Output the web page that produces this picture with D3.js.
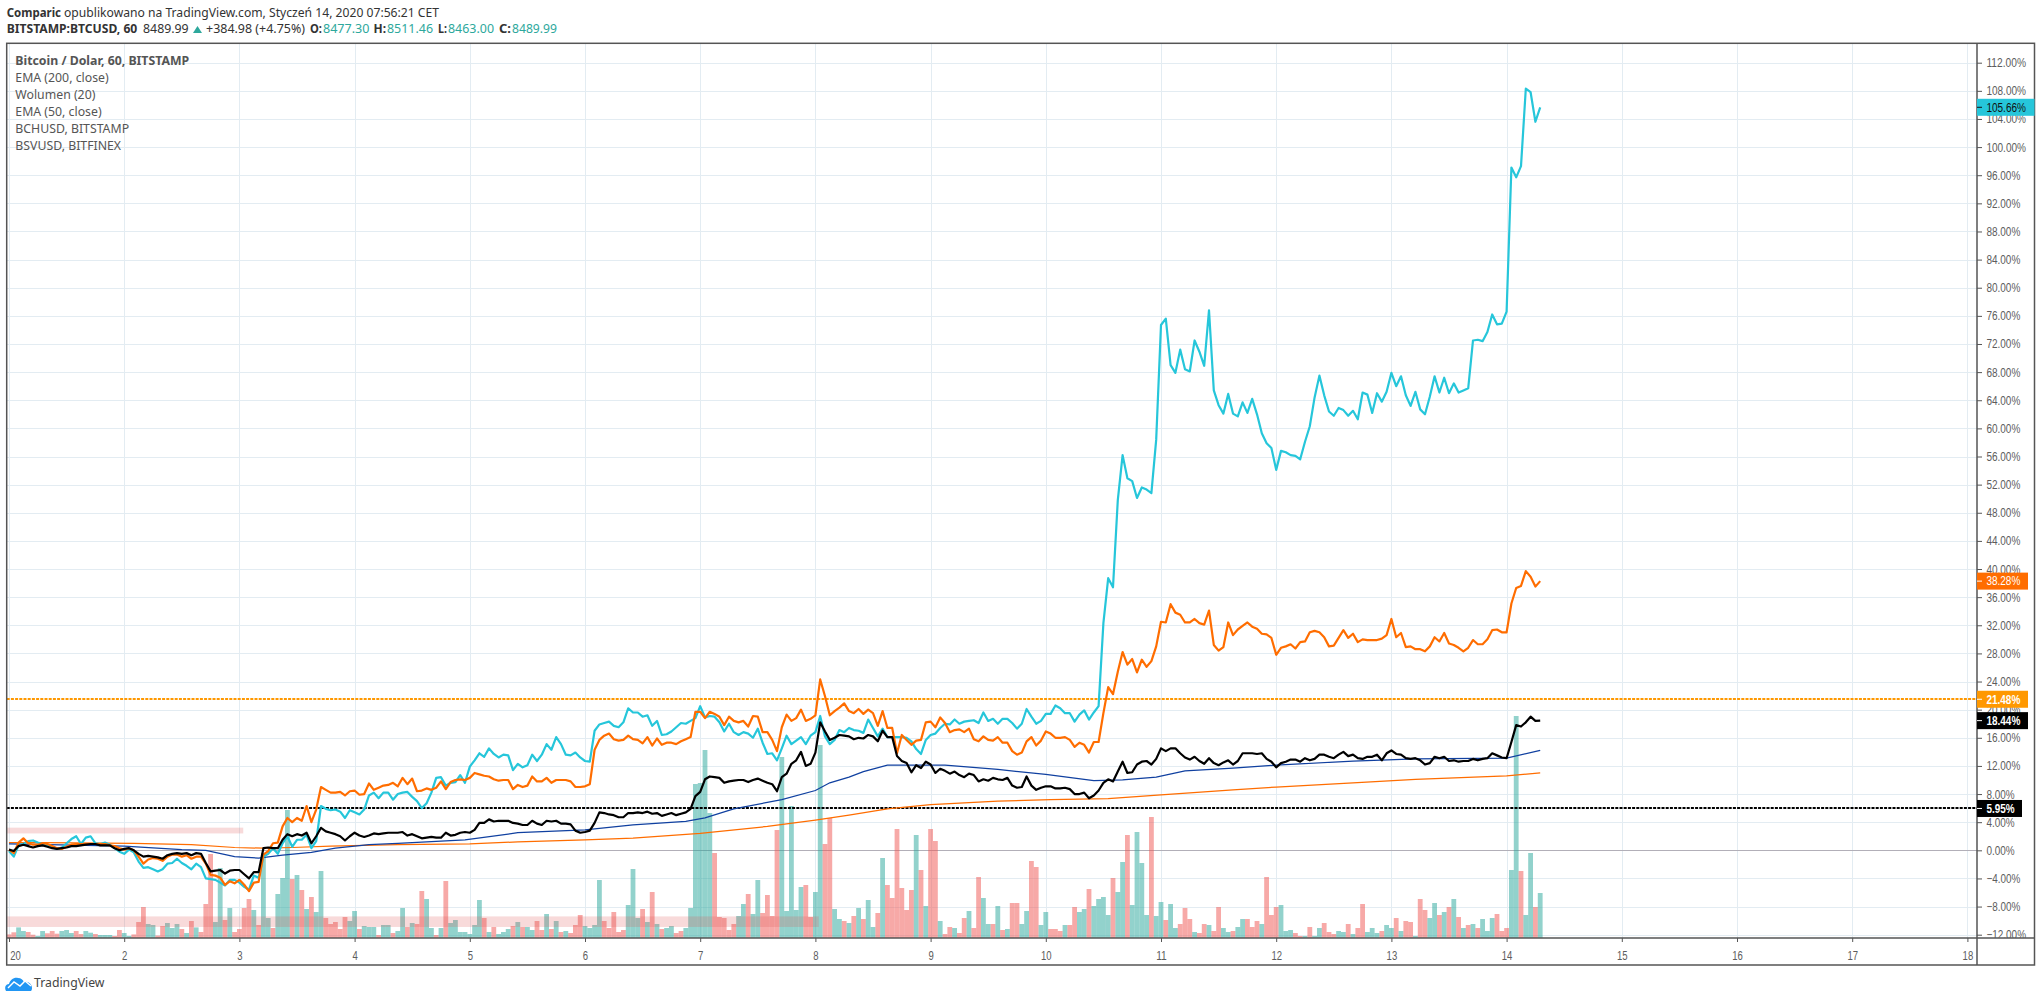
<!DOCTYPE html>
<html><head><meta charset="utf-8">
<script src="https://cdnjs.cloudflare.com/ajax/libs/d3/7.8.5/d3.min.js"></script>
<style>html,body{margin:0;padding:0;background:#fff;overflow:hidden}svg{display:block}</style>
</head><body><svg id="c" width="2041" height="1002"></svg>
<script>
// hourly percent change series, Jan 1 00:00 onward
const bsvusd = [
-0.1,-0.9,0.7,0.9,1.3,1.4,1.1,0.9,0.7,0.4,0.2,0.4,1.0,1.6,2.0,0.9,1.8,2.0,1.0,0.9,1.1,0.8,0.3,-0.2,
-0.5,0.1,-0.3,-1.6,-2.5,-2.4,-2.7,-3.0,-2.7,-1.9,-1.8,-1.2,-1.8,-2.2,-2.7,-1.9,-2.4,-4.0,-4.1,-4.2,-4.6,-5.0,-4.2,-4.2,
-4.6,-5.2,-5.6,-3.6,-3.9,-0.9,-0.5,0.3,-0.5,1.0,2.0,0.5,1.5,1.5,2.2,0.3,1.3,6.3,5.9,5.7,5.8,5.5,4.6,5.7,
5.4,5.1,5.8,7.8,8.2,7.4,8.2,8.2,7.2,8.0,8.2,8.3,7.6,7.0,6.0,6.7,8.2,10.3,10.4,9.2,9.6,9.7,10.7,9.6,
11.9,12.8,13.8,13.3,14.5,13.7,13.2,13.6,13.5,11.4,12.3,11.8,12.1,13.6,12.7,13.6,15.1,14.3,16.1,15.1,13.6,13.5,13.9,13.2,
12.7,12.6,17.0,17.9,18.1,18.3,17.7,17.5,18.2,20.2,19.6,19.6,19.0,19.2,17.7,18.4,16.4,16.5,16.9,17.5,18.1,18.0,18.4,18.8,
20.5,18.9,19.1,19.0,18.2,16.9,18.0,16.8,16.4,16.8,16.6,16.0,17.3,15.3,13.7,13.8,12.8,14.5,16.3,15.1,15.6,16.1,15.1,16.3,
16.8,19.1,16.2,15.1,15.7,17.1,16.8,17.4,17.1,17.0,16.7,18.6,17.4,16.2,17.3,16.1,16.1,16.1,16.1,16.0,15.5,14.4,13.7,15.7,
16.4,16.6,17.4,18.0,17.9,18.6,18.0,18.3,18.4,18.5,18.1,19.6,18.4,18.7,18.0,18.7,18.7,18.1,17.3,18.0,20.1,19.0,18.0,18.4,
19.4,19.4,20.6,20.2,19.5,19.5,18.3,19.3,19.9,18.6,19.6,20.5,32.3,38.7,37.4,49.8,56.2,52.9,52.5,50.1,51.6,51.3,50.8,58.4,
74.7,75.6,69.0,67.9,71.2,68.4,68.1,72.5,70.9,68.9,76.8,65.4,63.3,62.1,64.9,62.1,61.7,63.7,62.2,64.2,62.0,59.3,57.9,57.2,
54.1,56.8,56.6,56.2,56.1,55.6,58.1,60.3,64.4,67.5,64.7,62.4,61.8,62.9,62.6,61.8,62.5,61.3,65.1,64.8,62.2,65.0,63.8,65.2,
67.9,66.0,67.4,64.7,63.2,65.2,62.7,62.0,64.5,67.4,65.1,67.2,65.0,66.4,65.1,65.4,65.7,72.5,72.6,72.4,73.7,76.2,74.8,74.9,
76.6,97.1,95.7,97.3,108.3,107.8,103.6,105.66];

const bchusd = [
0.1,-0.4,1.1,1.7,1.0,0.8,0.8,1.0,0.9,0.6,0.3,0.2,0.5,0.8,0.9,0.9,0.9,0.9,0.9,0.9,0.9,0.7,0.6,0.3,
0.1,0.3,0.0,-0.9,-1.9,-1.3,-1.1,-1.2,-1.5,-0.9,-0.6,-0.6,-0.9,-0.7,-1.2,-0.9,-0.9,-1.9,-3.5,-3.6,-3.9,-4.9,-4.4,-4.7,
-4.2,-4.9,-5.8,-4.6,-4.5,-0.6,-0.1,1.0,1.1,3.4,4.6,4.0,4.6,4.2,6.3,4.0,5.8,9.0,8.6,8.2,8.2,8.3,7.8,8.4,
8.5,7.9,8.0,9.5,8.6,8.9,9.2,9.3,9.6,9.1,10.3,9.4,10.2,8.4,8.5,8.8,8.6,8.9,9.8,8.7,9.7,10.0,10.1,10.0,
10.3,11.0,10.8,10.6,10.5,10.1,9.9,10.0,10.0,8.7,9.3,9.0,9.2,10.5,9.8,9.8,10.3,9.6,10.0,10.0,10.0,9.8,9.0,9.0,
9.1,9.4,14.3,15.7,16.3,16.6,15.8,15.6,15.7,16.3,15.8,15.7,15.2,16.1,14.9,15.9,15.0,15.3,15.3,15.1,15.5,15.8,16.1,19.7,
19.7,18.8,19.7,19.4,19.0,17.8,19.0,18.4,18.2,18.4,17.6,19.1,19.0,16.8,16.8,15.7,14.1,17.5,19.3,18.4,18.8,20.0,18.4,18.7,
19.2,24.3,21.9,19.2,19.8,20.3,20.9,19.8,19.5,20.1,19.4,20.0,19.5,17.7,19.8,17.4,17.4,13.8,16.4,15.7,15.0,15.6,15.7,18.2,
18.3,17.5,18.9,18.1,16.8,17.1,17.2,16.8,17.3,15.8,15.5,16.2,15.7,15.6,16.1,15.3,15.3,14.1,13.6,13.9,15.5,16.1,14.9,15.6,
16.9,16.6,16.0,16.0,16.1,15.7,14.7,15.3,15.0,13.9,15.4,15.4,19.5,23.2,22.2,25.4,28.2,26.4,27.2,25.3,27.1,26.1,26.9,29.0,
32.5,32.4,35.0,33.8,33.5,32.4,32.4,32.9,32.3,32.1,34.1,29.2,28.4,28.9,32.4,30.6,31.4,31.9,32.4,31.8,31.5,30.8,30.7,30.2,
27.8,28.8,29.0,29.3,28.7,29.6,29.7,31.0,31.2,31.0,30.3,29.0,29.1,30.2,31.3,30.2,30.8,29.6,30.0,29.9,29.9,29.9,30.1,30.6,
32.9,30.3,30.9,28.9,29.0,28.6,28.6,28.3,29.0,30.3,29.7,30.9,29.4,29.2,28.8,28.3,28.8,29.9,29.3,29.3,30.0,31.3,31.4,31.0,
31.0,35.1,37.3,37.6,39.7,38.9,37.5,38.28];

const btcusd = [
0.1,-0.1,0.6,0.8,0.6,0.4,0.6,0.7,0.5,0.3,0.2,0.3,0.4,0.6,0.6,0.7,0.8,0.9,0.9,0.7,0.7,0.7,0.3,0.0,
0.2,0.3,0.0,-0.5,-0.9,-0.8,-0.9,-1.0,-1.2,-0.7,-0.5,-0.4,-0.5,-0.4,-0.7,-0.4,-0.5,-1.8,-3.0,-2.9,-2.8,-3.3,-2.9,-2.8,
-2.8,-3.4,-4.0,-3.1,-3.1,0.3,0.4,0.3,0.3,1.5,2.3,2.0,2.3,2.1,2.5,1.0,2.0,3.2,2.7,2.5,2.3,2.0,1.4,2.0,
2.5,2.1,1.9,2.1,2.4,2.3,2.4,2.5,2.5,2.5,2.6,2.1,2.3,2.0,1.7,1.8,1.9,1.8,1.8,2.5,2.1,2.2,2.5,2.6,
2.5,2.9,3.9,3.9,4.4,4.1,4.2,4.2,4.2,3.9,3.8,3.6,3.6,4.2,3.8,3.6,4.2,4.1,4.2,3.8,3.8,3.7,2.8,2.5,
2.6,2.8,3.9,5.4,5.3,5.1,5.0,4.7,4.7,5.3,5.3,5.4,5.3,5.5,5.2,5.3,4.9,5.1,5.3,5.0,5.2,5.4,5.9,7.7,
8.3,10.1,10.5,10.4,10.3,9.6,9.8,9.9,10.0,10.0,9.7,10.0,10.2,9.9,9.6,9.4,8.4,10.4,10.9,12.3,12.8,14.0,12.0,12.3,
13.9,18.2,16.9,15.7,16.0,16.4,16.3,16.2,15.8,16.0,15.9,16.4,16.2,15.5,17.0,16.1,16.1,13.4,12.7,12.4,11.1,12.1,11.7,12.6,
12.2,11.0,11.6,11.3,10.9,11.2,10.7,10.4,10.9,10.7,9.8,10.1,9.9,10.3,10.1,10.0,10.3,9.2,8.9,9.0,10.5,9.2,8.6,8.9,
9.1,9.1,8.8,8.8,8.9,8.7,8.0,8.0,8.2,7.4,7.8,8.5,9.6,10.1,9.8,11.2,12.6,11.0,11.1,12.2,12.6,12.7,12.2,13.0,
14.5,14.1,14.5,14.5,13.8,13.2,12.9,13.3,12.7,12.3,13.1,12.4,12.1,12.5,12.8,12.2,12.7,13.8,13.8,13.8,13.7,13.8,13.0,12.6,
11.8,12.4,12.6,12.9,12.9,12.6,13.1,12.8,13.0,13.6,13.6,13.3,13.1,13.6,14.0,13.4,13.6,13.1,13.0,13.3,13.3,13.6,12.8,13.8,
14.2,13.7,13.6,13.1,13.0,13.1,12.8,12.2,12.4,13.3,13.1,13.3,12.7,12.8,12.6,12.7,12.7,13.0,12.8,13.0,13.1,13.8,13.5,13.2,
13.1,15.4,17.8,17.6,18.2,19.0,18.4,18.44];

// hourly volume; sign gives bar direction (positive = close up, negative = close down)
const volume = [
-3.6,-5.7,10.6,7,-6,-3.3,2,7,-4.7,-7,-4.3,7,8,5,-7,-4,7,5.3,-4,3,3,3,-2,-8,
5,2,-3.6,-16,-31,14,13,-2.5,-12,15,10,14,-9,5,-17,10.6,-6,-34,-84,16,70,-18,30,-6,
-9,-30,-39,28,-13,85,20,-10,44,60,128,-59,63,-48,29,-41,26,67,-20,-14,-16,-9,-21,17,
27,-9,12,11,11,-3,13,13,-5,7,30,-11,15,-14,-47,39,10,-3,10,-57,15,18,6,6,
4,13,38,-20,6,-11,4,6,9,-12,16,-11,11,8,-17,-8,24,-9,17,-6,7,-5,-13,-23,
12,10,13,58,-17,-10,-26,-6,-8,33,69,20,-29,16,-46,14,-9,10,12,-5,-7,10,30,154,
155,188,125,-85,-21,-20,-8,-14,22,34,-44,24,58,-25,-43,-22,-108,181,27,132,28,51,-53,-21,
46,193,-94,-120,29,19,-17,15,-22,30,-19,38,11,-25,80,-53,-40,-109,-50,-28,-48,103,-68,32,
-109,-97,17,-4,-11,10,-5,-20,27,-10,-61,40,14,-14,32,-8,9,-35,-35,14,27,-77,-71,13,
26,-9,-9,-7,13,-13,-31,26,29,-49,32,39,41,23,-60,46,76,-103,33,106,75,23,-121,22,
36,-18,34,10,-14,-30,-19,6,-5,-14,13,-7,-31,10,6,-7,11,19,-19,-11,-17,14,-61,-23,
-31,33,7,8,-5,-2,2,-11,2,10,-15,-6,-4,7,6,-14,4,-10,-34,6,10,5,-7,13,
10,-20,7,-17,-16,2,-39,-28,20,35,-23,26,-31,39,-21,10,-13,14,-10,19,7,20,-24,-7,
-10,68,222,-67,23,85,-31,45];

const ema200Hours = [0,24,36,41,47,52,57,63,68,75,81,95,106,120,130,141,145,151,161,168,171,175,178,183,195,206,216,226,232,239,245,255,264,280,293,312,319];
const ema200 = [0.9,0.6,0.1,0.0,-0.9,-1.1,-0.7,-0.3,0.3,0.8,1.0,1.5,2.5,2.9,3.6,4.1,4.6,5.9,7.2,8.5,9.6,10.4,11.2,12.1,12.1,11.5,10.8,9.9,10.0,10.4,11.3,11.7,12.1,12.7,13.0,13.1,14.2];
const ema50Hours = [0,7,26,38,47,53,59,67,81,96,106,120,130,144,158,168,175,183,192,206,217,229,240,255,264,280,293,312,319];
const ema50 = [1.1,1.1,1.0,0.8,0.4,0.3,0.4,0.6,0.8,0.9,1.2,1.5,1.75,2.4,3.4,4.3,5.0,5.9,6.5,7.0,7.2,7.35,7.9,8.6,9.0,9.6,10.1,10.6,11.0];

const priceTicks = d3.range(-12, 113, 4);
const dayTicks = [1,2,3,4,5,6,7,8,9,10,11,12,13,14,15,16,17,18];
const levelOrange = 21.48, levelBlack = 5.95;
const legendRows = ["Bitcoin / Dolar, 60, BITSTAMP","EMA (200, close)","Wolumen (20)","EMA (50, close)","BCHUSD, BITSTAMP","BSVUSD, BITFINEX"];
const pinkZoneTop = {hours:[0,48.8], pct:[3.22,2.4]};
const pinkZoneBottom = {hours:[0,168.7], pct:[-9.4,-10.9]};

// geometry
const L=6.7,T=43.3,R=1977,B=938,FB=965,FR=2034.5;
const x=d3.scaleLinear([0,408],[9,1967.4]);
const y=d3.scaleLinear([-12,112],[934.7,62.7]);
const v=d3.scaleLinear([0,222],[B,716]);
const svg=d3.select('#c');
const FONT='"Noto Sans","Open Sans",sans-serif';
const AX='"Liberation Sans",sans-serif';
const labelW=s=>5.7*s.length-0.3;
const defs=svg.append('defs');
defs.append('clipPath').attr('id','plot').append('rect').attr('x',L).attr('y',T).attr('width',R-L).attr('height',B-T);
defs.append('clipPath').attr('id','pax').append('rect').attr('x',R).attr('y',T).attr('width',FR-R).attr('height',B-T);

const plot=svg.append('g').attr('clip-path','url(#plot)');
// grid
plot.append('g').selectAll('line').data(priceTicks).join('line')
 .attr('x1',L).attr('x2',R).attr('y1',d=>Math.round(y(d))+.5).attr('y2',d=>Math.round(y(d))+.5).attr('stroke','#E3ECF2').attr('stroke-width',1);
plot.append('g').selectAll('line').data(dayTicks).join('line')
 .attr('x1',d=>Math.round(x((d-1)*24))+.5).attr('x2',d=>Math.round(x((d-1)*24))+.5).attr('y1',T).attr('y2',B).attr('stroke','#E3ECF2').attr('stroke-width',1);
// zero line
plot.append('line').attr('x1',L).attr('x2',R).attr('y1',Math.round(y(0))+.5).attr('y2',Math.round(y(0))+.5).attr('stroke','#B2AFB8').attr('stroke-width',1);
// volume bars
plot.append('g').selectAll('rect').data(volume).join('rect')
 .attr('x',(d,i)=>x(i)-2.4).attr('width',x(1)-x(0)).attr('y',d=>v(Math.abs(d))).attr('height',d=>B-v(Math.abs(d)))
 .attr('fill',d=>d>=0?'rgba(38,166,154,.5)':'rgba(239,83,80,.5)');
// drawn zones
for(const z of [pinkZoneTop,pinkZoneBottom]){
 plot.append('rect').attr('x',L).attr('width',x(z.hours[1])-L).attr('y',y(z.pct[0])).attr('height',y(z.pct[1])-y(z.pct[0]))
  .attr('fill','rgba(220,80,80,.21)');
}
// dotted levels
for(const [lv,col] of [[levelOrange,'#FF9800'],[levelBlack,'#000']]){
 plot.append('line').attr('x1',L).attr('x2',R).attr('y1',Math.floor(y(lv))).attr('y2',Math.floor(y(lv))).attr('stroke',col).attr('stroke-width',2).attr('stroke-dasharray','3,1.2');
}
const line=d3.line().x((d,i)=>x(i)).y(d=>y(d));
const lineAt=h=>d3.line().x((d,i)=>x(h[i])).y(d=>y(d));
plot.append('path').attr('d',lineAt(ema50Hours)(ema50)).attr('fill','none').attr('stroke','#FF6D00').attr('stroke-width',1.25);
plot.append('path').attr('d',lineAt(ema200Hours)(ema200)).attr('fill','none').attr('stroke','#1040A0').attr('stroke-width',1.25);
for(const [s,c] of [[bsvusd,'#26C6DA'],[bchusd,'#FF6D00'],[btcusd,'#000']]){
 plot.append('path').attr('d',line(s)).attr('fill','none').attr('stroke',c).attr('stroke-width',2.2).attr('stroke-linejoin','round');
}
// legend
svg.append('g').selectAll('text').data(legendRows).join('text')
 .attr('x',15.3).attr('y',(d,i)=>64.7+17*i).attr('font-family',FONT).attr('font-size',12.3).attr('fill','#555')
 .attr('font-weight',(d,i)=>i?400:700).text(d=>d);
// frame
svg.append('rect').attr('x',L).attr('y',T).attr('width',FR-L).attr('height',FB-T).attr('fill','none').attr('stroke','#555').attr('stroke-width',1.5);
svg.append('line').attr('x1',R).attr('x2',R).attr('y1',T).attr('y2',FB).attr('stroke','#555').attr('stroke-width',1.5);
svg.append('line').attr('x1',L).attr('x2',FR).attr('y1',B).attr('y2',B).attr('stroke','#555').attr('stroke-width',1.5);
// price axis
const pax=svg.append('g').attr('clip-path','url(#pax)').append('g').attr('transform',`translate(${R},0)`)
 .call(d3.axisRight(y).tickValues(priceTicks).tickSize(5).tickPadding(4.4).tickFormat(d=>(d<0?'\u2212':'')+Math.abs(d).toFixed(2)+'%'));
pax.select('.domain').remove();
pax.selectAll('line').attr('stroke','#555');
pax.selectAll('text').attr('font-family',AX).attr('font-size',12.5).attr('fill','#5d5d5d')
 .attr('lengthAdjust','spacingAndGlyphs').attr('textLength',function(){return labelW(this.textContent);});
// time axis
const tax=svg.append('g').attr('transform',`translate(0,${B})`)
 .call(d3.axisBottom(x).tickValues(dayTicks.map(d=>(d-1)*24)).tickSize(4).tickPadding(9).tickFormat(h=>h===0?'20':String(h/24+1)));
tax.select('.domain').remove();
tax.selectAll('line').attr('stroke','#555');
tax.selectAll('text').attr('font-family',AX).attr('font-size',12.5).attr('fill','#5d5d5d')
 .attr('lengthAdjust','spacingAndGlyphs').attr('textLength',function(){return 5.3*this.textContent.length;})
 .attr('dx',(h)=>h===0?6:0);
// price tags
const tags=[[105.66,'#26C6DA','#111',57.5],[38.28,'#FF6D00','#fff',51],[levelOrange,'#FF9800','#fff',51],[18.44,'#000','#fff',51],[levelBlack,'#000','#fff',45]];
const tg=svg.append('g');
for(const [p,bg,fg,w] of tags){
 const yy=y(p), s=p.toFixed(2)+'%';
 tg.append('rect').attr('x',R).attr('y',yy-8.5).attr('width',w).attr('height',17).attr('fill',bg);
 tg.append('line').attr('x1',R).attr('x2',R+5).attr('y1',yy).attr('y2',yy).attr('stroke',fg);
 tg.append('text').attr('x',R+9.4).attr('y',yy).attr('dy','.34em').attr('font-family',AX).attr('font-size',12.5).attr('font-weight',p===18.44||p===levelBlack||p===levelOrange?700:400).attr('fill',fg)
  .attr('lengthAdjust','spacingAndGlyphs').attr('textLength',labelW(s)).text(s);
}
// header
function seg(txt,x0,x1,yy,opt={}){
 svg.append('text').attr('x',x0).attr('y',yy).attr('font-family',FONT).attr('font-size',12.5).attr('font-weight',opt.b?700:400)
  .attr('fill',opt.c||'#333').attr('textLength',x1-x0).attr('lengthAdjust','spacingAndGlyphs').text(txt);
}
const TEAL='#2DA89C';
seg('Comparic',6.7,61,17,{b:1});
seg('opublikowano na TradingView.com, Styczeń 14, 2020 07:56:21 CET',64,439,17);
seg('BITSTAMP:BTCUSD, 60',6.7,137.3,33,{b:1});
seg('8489.99',143,188.7,33);
svg.append('path').attr('d','M193 33L197.5 26L202 33Z').attr('fill',TEAL);
seg('+384.98 (+4.75%)',206,305,33);
seg('O:',310,322,33,{b:1}); seg('8477.30',323,369.5,33,{c:TEAL});
seg('H:',373.5,386,33,{b:1}); seg('8511.46',387,433,33,{c:TEAL});
seg('L:',438,447,33,{b:1}); seg('8463.00',448,494,33,{c:TEAL});
seg('C:',499,511,33,{b:1}); seg('8489.99',512,557,33,{c:TEAL});
// footer logo
const logo=svg.append('g').attr('transform','translate(5,977)');
logo.append('path').attr('d','M1 14C-1 10 1 7 4 7C5 3 9 0 13 1C16 1 18 3 19 5C23 4 27 7 27 11C27 12.5 26.5 13.5 26 14Z').attr('fill','#2196F3');
logo.append('path').attr('d','M3 11L9 5L15 9L20 4L26 9').attr('fill','none').attr('stroke','#fff').attr('stroke-width',1.4);
svg.append('text').attr('x',34).attr('y',987).attr('font-family',FONT).attr('font-size',13).attr('fill','#444').attr('textLength',70.5).attr('lengthAdjust','spacingAndGlyphs').text('TradingView');

const lens=[bsvusd.length,bchusd.length,btcusd.length,volume.length,ema200.length-ema200Hours.length,ema50.length-ema50Hours.length];
if(lens[0]!==320||lens[1]!==320||lens[2]!==320||lens[3]!==320||lens[4]||lens[5]) throw new Error('length check '+lens.join(','));
</script></body></html>
